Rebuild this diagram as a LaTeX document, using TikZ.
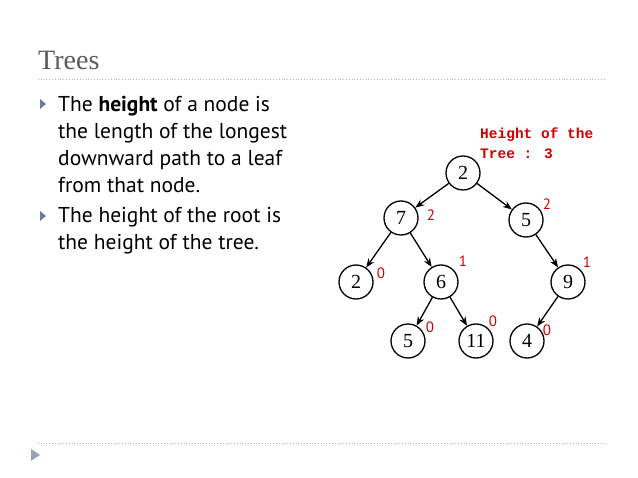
\documentclass[tikz,border=0pt]{standalone}
\usepackage{fontspec}
\setmainfont{Liberation Serif}
\newfontfamily\bodyfont{PT Sans}
\newfontfamily\monofont{Liberation Mono}
\usetikzlibrary{arrows.meta}
\definecolor{hred}{RGB}{204,0,0}
\definecolor{tgray}{RGB}{90,90,90}
\definecolor{dline}{RGB}{170,180,190}
\definecolor{bul}{RGB}{110,125,150}
\begin{document}
\begin{tikzpicture}[x=1pt,y=-1pt,
  tn/.style={circle,draw,line width=1.3pt,minimum size=34pt,inner sep=0pt,font=\fontsize{20}{20}\selectfont},
  ed/.style={line width=1.3pt,-{Stealth[length=9pt,width=7pt]}},
  hl/.style={text=hred,font=\bodyfont\fontsize{15}{15}\selectfont},
  bt/.style={anchor=base west,font=\bodyfont\fontsize{21.5}{21.5}\selectfont},
  bm/.style={fill=bul}]
\useasboundingbox (0,0) rectangle (638,478);
\node[anchor=base west,text=tgray,font=\fontsize{28}{28}\selectfont,inner sep=0pt] (title) at (38,70) {Trees};
\draw[dline,dotted,thick] (38,79) -- (605,79);
\draw[dline,dotted,thick] (38,443) -- (605,443);
\fill[bul!70] (31,449) -- (40,455) -- (31,461) -- cycle;
\fill[bm] (40,99) -- (46,104) -- (40,109) -- cycle;
\fill[bm] (40,211) -- (46,216) -- (40,221) -- cycle;
\node[bt,inner sep=0pt] (l1) at (58,112) {The \textbf{height} of a node is};
\node[bt,inner sep=0pt] (l2) at (58,139) {the length of the longest};
\node[bt,inner sep=0pt] (l3) at (58,166) {downward path to a leaf};
\node[bt,inner sep=0pt] (l4) at (58,193) {from that node.};
\node[bt,inner sep=0pt] (l5) at (58,223) {The height of the root is};
\node[bt,inner sep=0pt] (l6) at (58,250) {the height of the tree.};
\node[anchor=base west,inner sep=0pt,text=hred,font=\monofont\bfseries\fontsize{14.5}{14.5}\selectfont] (h1) at (480,139) {Height of the};
\node[anchor=base west,inner sep=0pt,text=hred,font=\monofont\bfseries\fontsize{14.5}{14.5}\selectfont] (h2) at (480,159) {Tree : 3};
\node[tn] (a) at (463,173) {2};
\node[tn] (b) at (401,218) {7};
\node[tn] (c) at (526,220) {5};
\node[tn] (d) at (356,282) {2};
\node[tn] (e) at (441,282) {6};
\node[tn] (f) at (568,282) {9};
\node[tn] (g) at (408,341) {5};
\node[tn] (h) at (476,341) {11};
\node[tn] (i) at (527,341) {4};
\draw[ed] (a) -- (b); \draw[ed] (a) -- (c);
\draw[ed] (b) -- (d); \draw[ed] (b) -- (e);
\draw[ed] (c) -- (f);
\draw[ed] (e) -- (g); \draw[ed] (e) -- (h);
\draw[ed] (f) -- (i);
\node[hl] (lb) at (431,215) {2};
\node[hl] (lc) at (547,204) {2};
\node[hl] (ld) at (381,273) {0};
\node[hl] (le) at (463,261) {1};
\node[hl] (lf) at (587,262) {1};
\node[hl] (lg) at (430,327) {0};
\node[hl] (lh) at (493,321) {0};
\node[hl] (li) at (547,330) {0};
\end{tikzpicture}
\end{document}
